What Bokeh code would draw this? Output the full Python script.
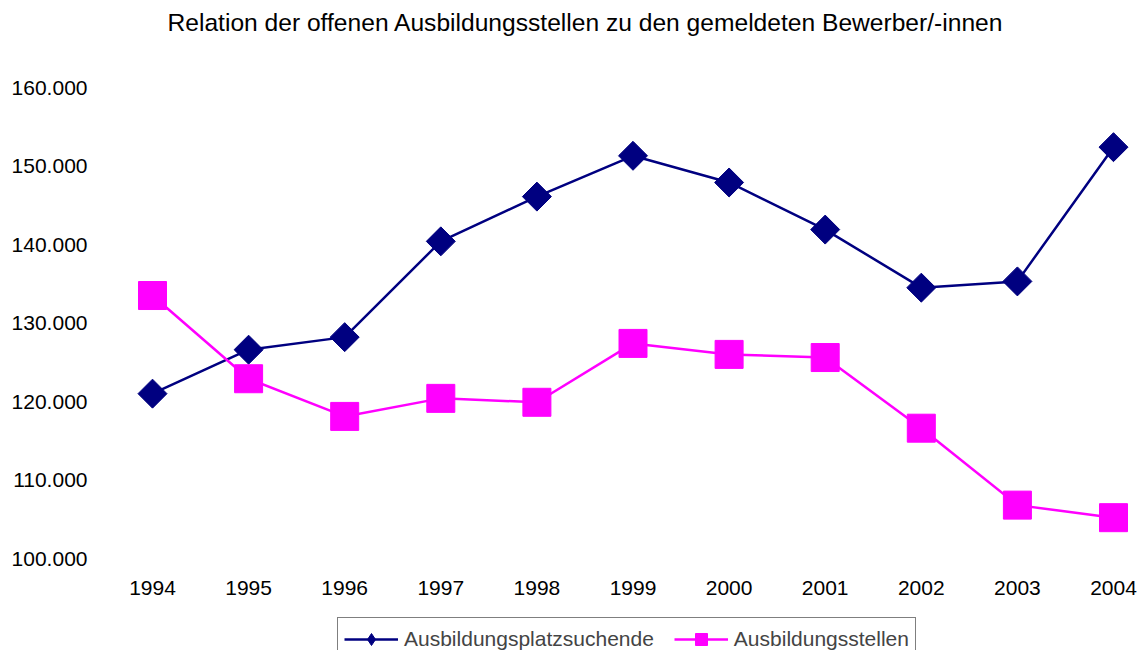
import math
from bokeh.plotting import figure
from bokeh.models import (ColumnDataSource, FixedTicker, Legend, LegendItem, Range1d, Label)
from bokeh.embed import file_html
from bokeh.resources import INLINE

years = [1994, 1995, 1996, 1997, 1998, 1999, 2000, 2001, 2002, 2003, 2004]
bewerber = [121000, 126600, 128200, 140400, 146100, 151300, 147900, 141900, 134500, 135300, 152400]
stellen = [133500, 122900, 118100, 120400, 119900, 127400, 126000, 125600, 116600, 106800, 105200]
y_ticks = [100000, 110000, 120000, 130000, 140000, 150000, 160000]
y_tick_labels = ["100.000", "110.000", "120.000", "130.000", "140.000", "150.000", "160.000"]
title_text = "Relation der offenen Ausbildungsstellen zu den gemeldeten Bewerber/-innen"
series_names = ["Ausbildungsplatzsuchende", "Ausbildungsstellen"]

FONT = "Liberation Sans"
W, H = 1141, 650
ML, MR = 100, 0
# frame spans the full height; 160000 -> 87px, 100000 -> 558px
PX_PER_UNIT = 471 / 60000
y_top = 160000 + 87 / PX_PER_UNIT
y_bot = 100000 - (H - 558) / PX_PER_UNIT
PX_PER_YEAR = (1113 - 152) / 10
x_start = 1994 - (152 - ML) / PX_PER_YEAR
x_end = 2004 + (W - MR - 1113) / PX_PER_YEAR

p = figure(width=W, height=H, output_backend="svg", toolbar_location=None,
           x_range=Range1d(x_start, x_end), y_range=Range1d(y_bot, y_top),
           min_border_left=ML, min_border_right=MR, min_border_top=0, min_border_bottom=0)
p.outline_line_color = None
p.xgrid.visible = False
p.ygrid.visible = False

for ax in (p.xaxis, p.yaxis):
    ax.axis_line_color = None
    ax.major_tick_line_color = None
    ax.minor_tick_line_color = None
    ax.major_tick_out = 0
    ax.major_tick_in = 0
    ax.major_label_text_font = FONT
    ax.major_label_text_font_size = "21px"
    ax.major_label_text_color = "black"

p.xaxis.ticker = FixedTicker(ticks=years)
p.xaxis.fixed_location = 100000
p.xaxis.major_label_standoff = 22
p.yaxis.ticker = FixedTicker(ticks=y_ticks)
p.yaxis.major_label_overrides = {t: l for t, l in zip(y_ticks, y_tick_labels)}
p.yaxis.major_label_standoff = 13

src = ColumnDataSource(dict(x=years, a=bewerber, b=stellen))

la = p.line("x", "a", source=src, line_color="#000080", line_width=2.5)
# small diamonds (hidden under the rotated squares) supply the legend's diamond glyph
md = p.scatter("x", "a", source=src, marker="diamond", size=12,
               fill_color="#000080", line_color="#000080")
ma = p.scatter("x", "a", source=src, marker="square", size=20.5, angle=math.pi / 4,
               fill_color="#000080", line_color="#000080")
lb = p.line("x", "b", source=src, line_color="#FF00FF", line_width=2.5)
mb = p.scatter("x", "b", source=src, marker="square", size=28,
               fill_color="#FF00FF", line_color="#FF00FF")

legend = Legend(items=[LegendItem(label=series_names[0], renderers=[la, md]),
                       LegendItem(label=series_names[1], renderers=[lb, mb])],
                orientation="horizontal", location=(237, -11),
                label_text_font=FONT, label_text_font_size="21px",
                glyph_width=54, glyph_height=30, label_standoff=6, spacing=20,
                padding=6, margin=0, border_line_color="black", border_line_width=1,
                background_fill_color="white", background_fill_alpha=1.0)
p.add_layout(legend, "center")

p.add_layout(Label(x=67, y=H - 22, x_units="screen", y_units="screen", text=title_text,
                   text_align="left", text_baseline="middle", text_font=FONT,
                   text_font_size="24.6px", text_color="black"))

open("out.html", "w").write(file_html(p, INLINE))
